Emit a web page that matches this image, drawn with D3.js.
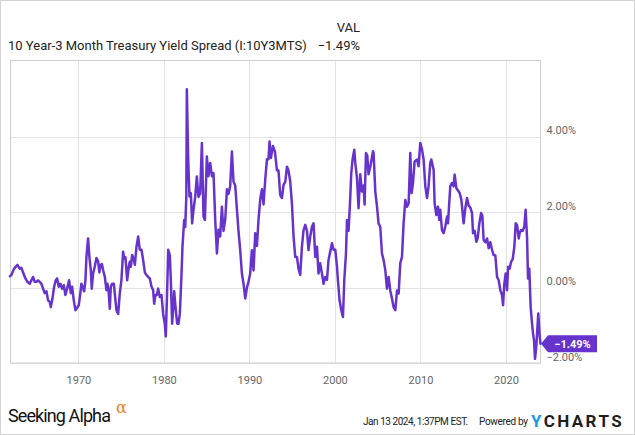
<!DOCTYPE html>
<html>
<head>
<meta charset="utf-8">
<script src="https://cdn.jsdelivr.net/npm/d3@7"></script>
<style>
  html, body { margin: 0; padding: 0; background: #fff; }
  svg { display: block; font-family: Roboto, "Noto Sans", sans-serif; }
</style>
</head>
<body>
<svg id="chart" width="635" height="435"></svg>
<script>
// ---- data (decimal year, spread in %) ----
const years = [
1962.00,1962.16,1962.48,1962.87,1963.14,1963.33,1963.61,1963.80,1964.04,1964.31,1964.50,1964.70,1964.89,
1965.09,1965.28,1965.48,1965.67,1965.87,1966.06,1966.26,1966.45,1966.65,1966.77,1966.96,1967.16,1967.35,
1967.51,1967.70,1967.90,1968.09,1968.29,1968.48,1968.68,1968.91,1969.11,1969.26,1969.46,1969.65,1969.81,
1970.04,1970.20,1970.35,1970.55,1970.67,1970.82,1970.94,1971.13,1971.29,1971.45,1971.56,1971.72,1971.91,
1972.11,1972.30,1972.45,1972.60,1972.75,1972.90,1973.09,1973.28,1973.40,1973.55,1973.67,1973.79,1973.94,
1974.14,1974.25,1974.45,1974.65,1974.84,1975.03,1975.23,1975.35,1975.50,1975.70,1975.89,1976.01,1976.13,
1976.28,1976.44,1976.60,1976.79,1976.99,1977.18,1977.38,1977.57,1977.77,1977.96,1978.15,1978.35,1978.55,
1978.74,1978.86,1979.01,1979.17,1979.33,1979.52,1979.72,1979.91,1980.10,1980.22,1980.38,1980.50,1980.69,
1980.81,1980.96,1981.12,1981.20,1981.39,1981.55,1981.70,1981.86,1982.05,1982.17,1982.37,1982.49,1982.62,
1982.68,1982.84,1982.99,1983.15,1983.30,1983.46,1983.66,1983.85,1984.04,1984.24,1984.44,1984.63,1984.79,
1985.02,1985.21,1985.41,1985.61,1985.80,1986.00,1986.20,1986.38,1986.58,1986.78,1986.97,1987.17,1987.37,
1987.55,1987.75,1987.95,1988.14,1988.34,1988.54,1988.72,1988.92,1989.12,1989.31,1989.51,1989.71,1989.89,
1990.09,1990.29,1990.48,1990.68,1990.88,1991.06,1991.26,1991.46,1991.65,1991.85,1992.05,1992.23,1992.35,
1992.51,1992.75,1992.98,1993.22,1993.40,1993.60,1993.80,1993.99,1994.19,1994.39,1994.57,1994.77,1994.97,
1995.16,1995.36,1995.56,1995.74,1995.94,1996.14,1996.33,1996.53,1996.73,1996.91,1997.11,1997.31,1997.50,
1997.70,1997.90,1998.08,1998.28,1998.48,1998.67,1998.87,1999.07,1999.25,1999.45,1999.65,1999.84,2000.04,
2000.24,2000.35,2000.54,2000.74,2000.94,2001.09,2001.29,2001.41,2001.59,2001.76,2001.91,2002.06,2002.26,
2002.38,2002.58,2002.76,2002.96,2003.16,2003.35,2003.47,2003.63,2003.78,2003.93,2004.13,2004.33,2004.45,
2004.52,2004.72,2004.92,2005.10,2005.30,2005.50,2005.69,2005.89,2006.08,2006.28,2006.47,2006.67,2006.86,
2007.06,2007.26,2007.45,2007.64,2007.84,2008.03,2008.23,2008.43,2008.62,2008.81,2008.97,2009.13,2009.32,
2009.60,2009.78,2009.98,2010.18,2010.37,2010.57,2010.77,2010.95,2011.15,2011.27,2011.54,2011.66,2011.86,
2012.05,2012.20,2012.32,2012.52,2012.71,2012.90,2013.11,2013.22,2013.49,2013.69,2013.88,2014.00,2014.20,
2014.40,2014.59,2014.79,2015.05,2015.25,2015.45,2015.64,2015.83,2016.03,2016.15,2016.34,2016.54,2016.69,
2016.89,2017.09,2017.24,2017.39,2017.59,2017.79,2017.98,2018.17,2018.37,2018.56,2018.76,2018.96,2019.15,
2019.34,2019.54,2019.66,2019.81,2019.97,2020.13,2020.25,2020.43,2020.60,2020.79,2020.98,2021.14,2021.30,
2021.49,2021.61,2021.77,2021.96,2022.15,2022.30,2022.47,2022.58,2022.73,2022.89,2023.05,2023.17,2023.28,
2023.40,2023.55,2023.78,2023.95,2024.04
];
const spread = [
0.30,0.33,0.50,0.60,0.50,0.52,0.35,0.24,0.15,0.10,0.19,0.28,0.15,
0.15,0.19,0.15,0.10,-0.03,-0.15,-0.10,-0.34,-0.38,-0.52,-0.30,0.02,0.19,
0.24,0.02,0.10,-0.03,0.06,-0.20,-0.03,0.19,-0.15,0.02,-0.34,-0.60,-0.55,
-0.47,-0.20,0.10,-0.03,-0.10,0.19,0.81,1.30,0.80,0.46,-0.03,0.37,0.55,
0.78,0.70,0.40,0.60,0.62,0.45,0.28,-0.07,0.10,-0.15,-0.56,0.02,0.10,
0.10,-0.15,-0.60,-0.70,-0.15,0.19,0.95,0.77,0.80,0.19,0.55,0.68,0.55,
0.86,0.77,0.60,1.08,1.35,1.00,1.00,0.73,0.40,0.33,0.28,0.24,0.02,
-0.07,-0.43,-0.20,-0.20,-0.03,-0.25,-0.20,-0.70,-0.96,-1.30,-0.07,1.00,0.86,
0.19,-0.96,-0.43,-0.10,-0.60,-0.96,-0.96,-0.70,0.30,1.08,1.79,1.60,2.40,
5.25,3.40,2.41,2.50,1.70,2.06,2.40,2.94,2.40,2.50,3.83,1.88,1.79,
3.47,2.95,3.30,2.95,3.03,1.79,0.90,1.53,1.35,2.14,1.50,1.80,2.60,
2.48,2.68,3.60,2.80,2.70,2.06,1.50,1.00,0.37,0.10,-0.29,0.00,0.15,
0.37,0.99,0.45,1.44,1.10,1.79,2.33,2.60,2.20,2.86,3.40,3.40,3.87,
3.43,3.75,3.60,3.10,3.10,2.45,2.37,2.72,2.80,3.20,3.10,2.81,2.23,
1.35,0.81,0.81,0.50,0.33,1.08,1.52,1.66,1.50,0.99,1.35,1.61,1.70,
0.81,1.08,0.37,0.64,0.37,0.10,0.28,0.20,0.73,0.95,1.17,1.00,1.00,
0.55,0.19,-0.34,-0.60,-0.78,0.19,0.90,1.79,1.50,2.23,3.03,3.39,3.65,
3.30,2.90,2.10,3.00,2.54,2.70,2.20,3.56,3.50,3.00,3.20,3.45,3.61,
3.56,2.54,2.14,1.70,1.61,0.90,0.73,0.46,-0.03,0.28,-0.08,-0.29,-0.52,
-0.60,-0.08,-0.16,0.64,0.81,1.70,2.32,2.14,2.23,3.56,2.50,2.77,3.34,
3.39,3.21,3.83,3.66,3.39,2.68,2.37,2.68,3.30,3.39,3.12,2.23,1.92,
2.14,1.79,2.06,1.52,1.44,1.61,1.88,1.70,2.68,2.77,2.68,2.99,2.63,
2.57,2.50,2.32,1.70,2.10,2.37,2.17,2.12,1.97,1.44,1.50,1.21,1.30,
1.70,1.97,1.90,1.26,1.20,1.30,1.04,1.20,1.00,0.86,0.85,0.28,0.19,
-0.07,-0.20,-0.47,0.10,0.37,-0.07,0.55,0.50,0.68,0.75,1.08,1.70,1.65,
1.30,1.45,1.52,1.50,1.62,2.06,1.30,0.24,0.50,-0.52,-0.96,-1.22,-1.40,
-1.89,-1.55,-0.69,-1.30,-1.49
];
const yearTicks = [1970, 1980, 1990, 2000, 2010, 2020];
const valueTicks = [-2, 0, 2, 4];
const lastValue = -1.49;
const titleText = "10 Year-3 Month Treasury Yield Spread (I:10Y3MTS)";

// ---- layout ----
const svg = d3.select("#chart");
const W = 635, H = 435;
const plot = { left: 10, right: 540.5, top: 61, bottom: 363 };
const purple = "#6633cc";

const x = d3.scaleLinear().domain([1962.0, 2024.04]).range([plot.left, plot.right]);
const y = d3.scaleLinear().domain([-2, 6]).range([plot.bottom, plot.top]);

// outer frame
svg.append("rect").attr("x", 0.5).attr("y", 0.5).attr("width", W - 1).attr("height", H - 1)
  .attr("fill", "#fff").attr("stroke", "#d3d3d3");

// header
svg.append("text").attr("x", 8).attr("y", 50).attr("font-size", 13).attr("fill", "#222")
  .text(titleText);
svg.append("text").attr("x", 360).attr("y", 31.5).attr("text-anchor", "end")
  .attr("font-size", 13).attr("fill", "#222").text("VAL");
svg.append("text").attr("x", 360).attr("y", 50).attr("text-anchor", "end")
  .attr("font-size", 13).attr("fill", "#222").text(d3.format(".2f")(lastValue) + "%");

// gridlines
const g = svg.append("g");
g.selectAll("line.h").data(valueTicks).join("line")
  .attr("x1", plot.left).attr("x2", plot.right)
  .attr("y1", d => Math.round(y(d)) + 0.5).attr("y2", d => Math.round(y(d)) + 0.5)
  .attr("stroke", "#e3e3e3");
g.selectAll("line.v").data(yearTicks).join("line")
  .attr("y1", plot.top).attr("y2", plot.bottom)
  .attr("x1", d => Math.round(x(d)) + 0.5).attr("x2", d => Math.round(x(d)) + 0.5)
  .attr("stroke", "#e3e3e3");

// plot frame
svg.append("rect").attr("x", plot.left + 0.5).attr("y", plot.top - 0.5)
  .attr("width", plot.right - plot.left - 0.5).attr("height", plot.bottom - plot.top + 0.5)
  .attr("fill", "none").attr("stroke", "#cfcfcf");

// axes (labels only)
const yAxis = d3.axisRight(y).tickValues(valueTicks).tickSize(0)
  .tickFormat(d => d3.format(".2f")(d) + "%");
const ya = svg.append("g").attr("transform", `translate(${plot.right + 6},0)`).call(yAxis);
ya.select(".domain").remove();
ya.selectAll("text").attr("font-size", 11).attr("fill", "#666").attr("font-family", "Roboto")
  .attr("dy", "-0.25em").attr("x", 0);

const xAxis = d3.axisBottom(x).tickValues(yearTicks).tickSize(0).tickFormat(d3.format("d"));
const xa = svg.append("g").attr("transform", `translate(0,${plot.bottom})`).call(xAxis);
xa.select(".domain").remove();
xa.selectAll("text").attr("font-size", 11).attr("fill", "#666").attr("font-family", "Roboto")
  .attr("y", 13);

// line
const data = years.map((yr, i) => ({ yr, v: spread[i] }));
const line = d3.line().x(d => x(d.yr)).y(d => y(d.v));
svg.append("path").datum(data).attr("d", line)
  .attr("fill", "none").attr("stroke", purple).attr("stroke-width", 2.5)
  .attr("stroke-linejoin", "round").attr("stroke-linecap", "round");

// last value badge
const by = y(lastValue);
const tipX = plot.right + 0.5;
const bx0 = tipX + 7, bx1 = tipX + 56, bh = 17;
svg.append("path")
  .attr("d", `M${tipX},${by} L${bx0},${by - bh / 2} L${bx1},${by - bh / 2} L${bx1},${by + bh / 2} L${bx0},${by + bh / 2} Z`)
  .attr("fill", purple);
svg.append("text").attr("x", (bx0 + bx1) / 2).attr("y", by + 4).attr("text-anchor", "middle")
  .attr("font-size", 11).attr("font-weight", "bold").attr("fill", "#fff")
  .text(d3.format(".2f")(lastValue) + "%");

// footer
svg.append("text").attr("x", 8).attr("y", 422).attr("font-size", 18)
  .attr("letter-spacing", "-0.9").attr("fill", "#111")
  .text("Seeking Alpha");
svg.append("text").attr("x", 116).attr("y", 413).attr("font-size", 16)
  .attr("fill", "#f47b20").attr("font-family", "'DejaVu Serif', serif").text("α");

svg.append("text").attr("x", 363).attr("y", 425).attr("font-size", 10).attr("fill", "#222")
  .attr("letter-spacing", "-0.45")
  .text("Jan 13 2024, 1:37PM EST.");
svg.append("text").attr("x", 479).attr("y", 425).attr("font-size", 10).attr("fill", "#222")
  .attr("letter-spacing", "-0.3")
  .text("Powered by");
const yc = svg.append("text").attr("x", 531).attr("y", 427).attr("font-size", 17)
  .attr("font-weight", "bold").attr("letter-spacing", "2.4").attr("font-family", "Roboto");
yc.append("tspan").attr("fill", "#1a9be6").text("Y");
yc.append("tspan").attr("fill", "#1e1e1e").text("CHARTS");
</script>
</body>
</html>
